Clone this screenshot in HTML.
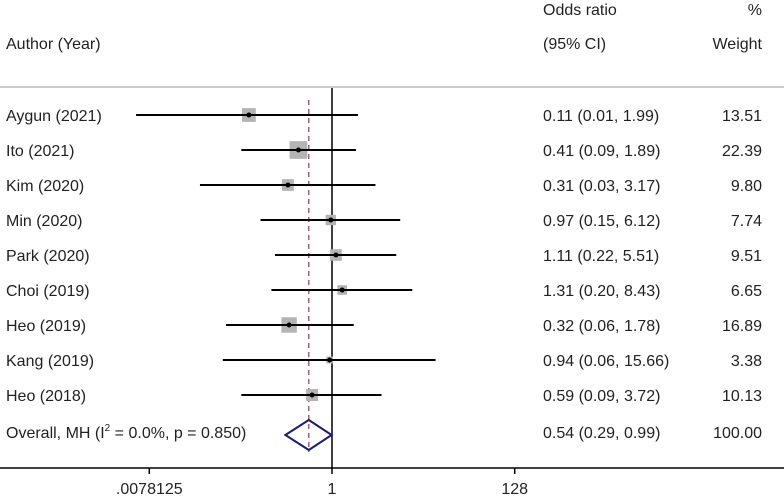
<!DOCTYPE html>
<html><head><meta charset="utf-8"><style>
body{margin:0;background:#fff;}
svg{display:block;font-family:"Liberation Sans",Arial,sans-serif;}
</style></head><body>
<svg id="chart" width="784" height="497" viewBox="0 0 784 497" xmlns="http://www.w3.org/2000/svg">
<rect width="784" height="497" fill="#fff"/>
<g font-size="16" fill="#222">
<text x="543" y="15">Odds ratio</text>
<text x="762" y="15" text-anchor="end">%</text>
<text x="6" y="49">Author (Year)</text>
<text x="543" y="49">(95% CI)</text>
<text x="762" y="49" text-anchor="end">Weight</text>
</g>
<line x1="0" y1="87" x2="784" y2="87" stroke="#ccc" stroke-width="2"/>
<g id="rows"></g>
<g id="axis"></g>
</svg>
<script>
const studies = ["Aygun (2021)","Ito (2021)","Kim (2020)","Min (2020)","Park (2020)","Choi (2019)","Heo (2019)","Kang (2019)","Heo (2018)"];
const orVals = [0.11,0.41,0.31,0.97,1.11,1.31,0.32,0.94,0.59];
const ciLow = [0.0055,0.09,0.03,0.15,0.22,0.20,0.06,0.055,0.09];
const ciHigh = [1.99,1.89,3.17,6.12,5.51,8.43,1.78,15.66,3.72];
const ciLabels = ["0.11 (0.01, 1.99)","0.41 (0.09, 1.89)","0.31 (0.03, 3.17)","0.97 (0.15, 6.12)","1.11 (0.22, 5.51)","1.31 (0.20, 8.43)","0.32 (0.06, 1.78)","0.94 (0.06, 15.66)","0.59 (0.09, 3.72)"];
const weights = [13.51,22.39,9.80,7.74,9.51,6.65,16.89,3.38,10.13];
const overall = [0.54,0.29,0.99];
const overallLabel = "0.54 (0.29, 0.99)";
const overallWeight = "100.00";
const tickVals = [0.0078125,1,128];
const tickLabels = [".0078125","1","128"];

const NS="http://www.w3.org/2000/svg";
const FS=16;
const xs = v => 332 + Math.log2(v)*26.1;
const ys = i => 115 + i*35;
function mk(tag, attrs, parent, text){
  const e=document.createElementNS(NS,tag);
  for(const k in attrs) e.setAttribute(k,attrs[k]);
  if(text!==undefined) e.textContent=text;
  parent.appendChild(e); return e;
}
const rows=document.getElementById('rows');
const axis=document.getElementById('axis');
let nl=mk('line',{x1:xs(1),y1:88,x2:xs(1),y2:468,stroke:'#000','stroke-width':1.5},rows);


let dl=mk('line',{x1:xs(overall[0]),y1:100,x2:xs(overall[0]),y2:452,stroke:'#8b3a62','stroke-width':1.2,'stroke-dasharray':'5,4'},rows);


studies.forEach((s,i)=>{
  const y=ys(i);
  const g=mk('g',{},rows);
  
  
  const t=mk('text',{x:6,y:y+6,'font-size':FS,fill:'#222'},g,s);
  
  
  const side=3.75*Math.sqrt(weights[i]);
  const b=mk('rect',{x:xs(orVals[i])-side/2,y:y-side/2,width:side,height:side,fill:'#b4b4b4'},g);
  
  
  const l=mk('line',{x1:xs(ciLow[i]),y1:y,x2:xs(ciHigh[i]),y2:y,stroke:'#000','stroke-width':2},g);
  
  
  const p=mk('circle',{cx:xs(orVals[i]),cy:y,r:2.5,fill:'#000'},g);
  
  
  const c=mk('text',{x:543,y:y+6,'font-size':FS,fill:'#222'},g,ciLabels[i]);
  
  
  const w=mk('text',{x:762,y:y+6,'font-size':FS,fill:'#222','text-anchor':'end'},g,weights[i].toFixed(2));
  
  
});
const oy=435;
const og=mk('g',{},rows);


const ot=mk('text',{x:6,y:oy+3,'font-size':FS,fill:'#222'},og);
ot.innerHTML='Overall, MH (I<tspan dy="-7" font-size="10">2</tspan><tspan dy="7"> = 0.0%, p = 0.850)</tspan>';


const dm=mk('polygon',{points:`${xs(overall[1])},${oy} ${xs(overall[0])},${oy-15} ${xs(overall[2])},${oy} ${xs(overall[0])},${oy+15}`,fill:'none',stroke:'#1a1f6b','stroke-width':2},og);


const oc=mk('text',{x:543,y:oy+3,'font-size':FS,fill:'#222'},og,overallLabel);


const ow=mk('text',{x:762,y:oy+3,'font-size':FS,fill:'#222','text-anchor':'end'},og,overallWeight);


const al=mk('line',{x1:0,y1:468,x2:784,y2:468,stroke:'#000','stroke-width':1.5},axis);


tickVals.forEach((v,i)=>{
  const tk=mk('line',{x1:xs(v),y1:468,x2:xs(v),y2:474,stroke:'#000','stroke-width':1.5},axis);
  
  
  const tl=mk('text',{x:xs(v),y:494,'font-size':FS,fill:'#222','text-anchor':'middle'},axis,tickLabels[i]);
  
  
});
</script>
</body></html>
